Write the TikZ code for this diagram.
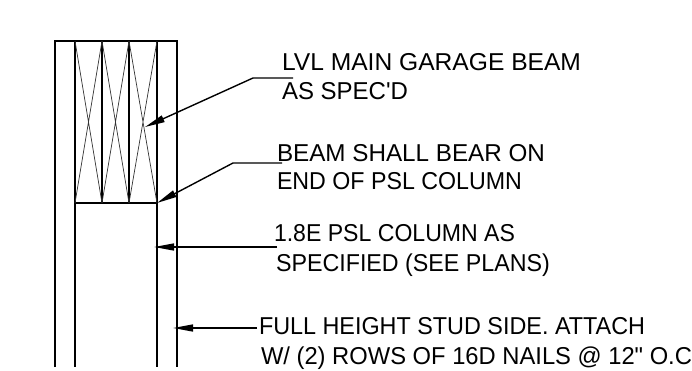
\documentclass[tikz,border=0pt]{standalone}
\usepackage{fontspec}
\usepackage{graphicx}
\usetikzlibrary{arrows.meta}
\newfontfamily\lab{Liberation Sans}
\newcommand\fitw[2]{\setbox0\hbox{\lab\fontsize{24.4pt}{28pt}\selectfont #2}\pgfmathsetmacro\rr{#1/\wd0}\scalebox{\rr}[1]{\box0}}
\tikzset{
  x=1pt,y=-1pt,
  wall/.style={draw=black,line width=1.3pt},
  grain/.style={draw=black!80,line width=0.7pt},
  leader/.style={draw=black,line width=1.4pt,-{Triangle[length=20pt,width=7pt]}},
  lbl/.style={anchor=base west,inner sep=0pt,outer sep=0pt}
}
\begin{document}
\begin{tikzpicture}
\useasboundingbox (0,0) rectangle (692,370);
\fill[white] (0,0) rectangle (692,370);
% column and studs
\draw[wall] (55,367) -- (55,41) -- (177,41) -- (177,367);
\draw[wall] (75,41) -- (75,367);
\draw[wall] (157,41) -- (157,367);
\draw[wall] (102,41) -- (102,203);
\draw[wall] (129,41) -- (129,203);
\draw[wall] (75,203) -- (157,203);
% beam grain crosses
\draw[grain] (75,41) -- (102,203) (102,41) -- (75,203);
\draw[grain] (102,41) -- (129,203) (129,41) -- (102,203);
\draw[grain] (129,41) -- (157,203) (157,41) -- (129,203);
% labels
\node[lbl] (t1) at (282,70) {\fitw{299}{LVL MAIN GARAGE BEAM}};
\node[lbl] (t2) at (282,99) {\fitw{126}{AS SPEC'D}};
\node[lbl] (t3) at (277,161) {\fitw{268}{BEAM SHALL BEAR ON}};
\node[lbl] (t4) at (277,189) {\fitw{245}{END OF PSL COLUMN}};
\node[lbl] (t5) at (274,241) {\fitw{241}{1.8E PSL COLUMN AS}};
\node[lbl] (t6) at (276,271) {\fitw{274}{SPECIFIED (SEE PLANS)}};
\node[lbl] (t7) at (259,334) {\fitw{386}{FULL HEIGHT STUD SIDE. ATTACH}};
\node[lbl] (t8) at (261,364) {\fitw{431}{W/ (2) ROWS OF 16D NAILS @ 12" O.C}};
% leader anchors
\coordinate (a1s) at (293,78); \coordinate (a1k) at (253,78); \coordinate (a1t) at (145,127);
\coordinate (a2s) at (282,163); \coordinate (a2k) at (233,163); \coordinate (a2t) at (157,203);
\coordinate (a3s) at (277,247); \coordinate (a3t) at (154,247);
\coordinate (a4s) at (257,328); \coordinate (a4t) at (173,328);
\draw[leader] (a1s) -- (a1k) -- (a1t);
\draw[leader] (a2s) -- (a2k) -- (a2t);
\draw[leader] (a3s) -- (a3t);
\draw[leader] (a4s) -- (a4t);
\end{tikzpicture}
\end{document}
